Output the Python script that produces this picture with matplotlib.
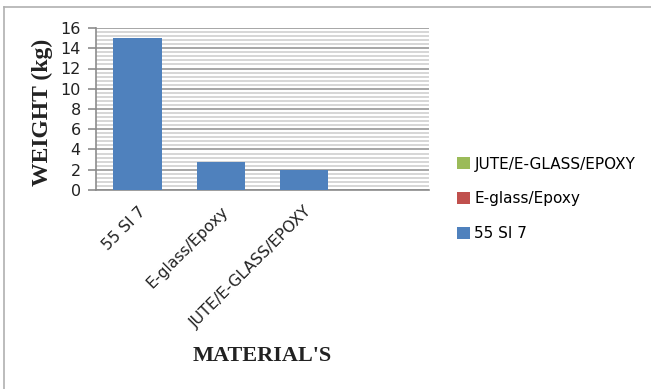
import matplotlib
matplotlib.use("Agg")
import matplotlib.pyplot as plt
from matplotlib.patches import Patch
from matplotlib.ticker import MultipleLocator
from matplotlib.lines import Line2D

# Data
materials = ["55 SI 7", "E-glass/Epoxy", "JUTE/E-GLASS/EPOXY"]
weights = [15.0, 2.8, 2.0]
legend_labels = ["JUTE/E-GLASS/EPOXY", "E-glass/Epoxy", "55 SI 7"]
legend_colors = ["#9BBB59", "#C0504D", "#4F81BD"]
bar_color = "#4F81BD"

W, H = 651, 389
fig = plt.figure(figsize=(W / 100, H / 100), dpi=100)
fig.patch.set_facecolor("white")

# Outer frame (top and left edges)
fig.add_artist(Line2D([3.5 / W, 1.0], [1 - 7 / H, 1 - 7 / H], color="#B0B0B0", lw=1.2))
fig.add_artist(Line2D([3.5 / W, 3.5 / W], [0, 1 - 7 / H], color="#B0B0B0", lw=1.2))

ax = fig.add_axes([96 / W, 1 - 190 / H, (429 - 96) / W, (190 - 28) / H])

x = list(range(len(materials)))
ax.bar(x, weights, width=0.58, color=bar_color, zorder=3)

ax.set_xlim(-0.5, 3.5)
ax.set_ylim(0, 16)
ax.yaxis.set_major_locator(MultipleLocator(2))
ax.yaxis.set_minor_locator(MultipleLocator(0.4))
ax.grid(which="major", axis="y", color="#A6A6A6", lw=1.4, zorder=1)
ax.grid(which="minor", axis="y", color="#CFCFCF", lw=1.2, zorder=1)
ax.grid(which="both", axis="x", visible=False)

for s in ["top", "right"]:
    ax.spines[s].set_visible(False)
for s in ["left", "bottom"]:
    ax.spines[s].set_color("#8C8C8C")
    ax.spines[s].set_linewidth(1.2)

ax.tick_params(axis="y", which="major", length=6, width=1.2, color="#8C8C8C",
               labelsize=11.5, pad=5)
ax.tick_params(axis="y", which="minor", length=0)
ax.tick_params(axis="x", length=0, pad=10)
ax.set_xticks(x)
ax.set_xticklabels(materials, rotation=45, ha="right", rotation_mode="anchor",
                   fontsize=11.3, color="#222222")
for lbl in ax.get_yticklabels():
    lbl.set_color("#222222")

fig.text(42 / W, 1 - 112 / H, "WEIGHT (kg)", family="Liberation Serif",
         fontweight="bold", fontsize=17, color="#222222", rotation=90,
         ha="center", va="center")
fig.text(262 / W, 1 - 356 / H, "MATERIAL'S", family="Liberation Serif",
         fontweight="bold", fontsize=16, color="#222222", ha="center", va="center")

handles = [Patch(facecolor=c, edgecolor="none") for c in legend_colors]
fig.legend(handles, legend_labels, loc="center left",
           bbox_to_anchor=(443 / W, 1 - 199 / H), frameon=False,
           fontsize=11, handlelength=0.85, handleheight=0.85,
           handletextpad=0.3, labelspacing=1.3)

fig.savefig("out.png", dpi=100)
